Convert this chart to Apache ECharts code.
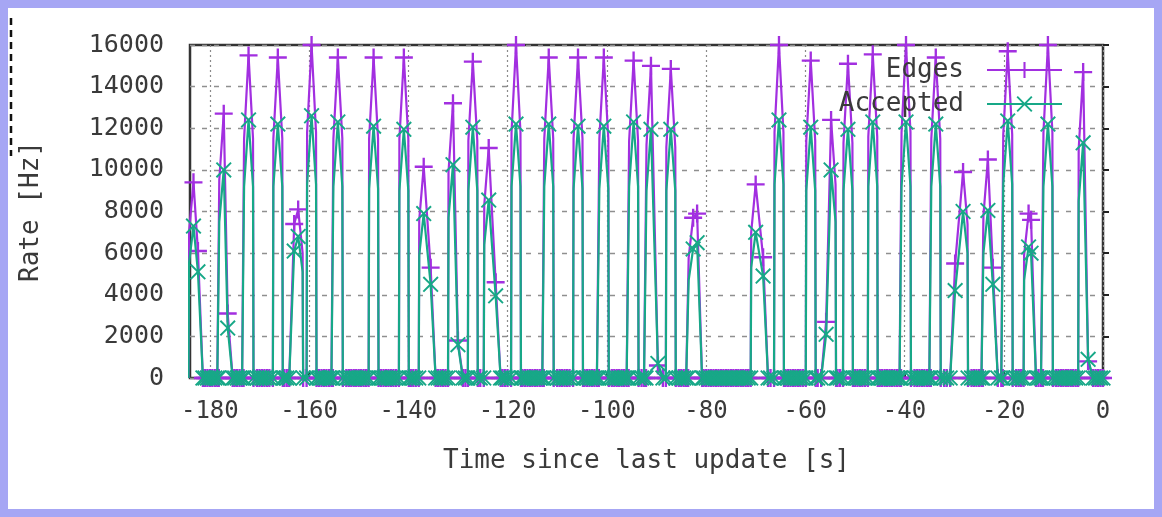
<!DOCTYPE html>
<html>
<head>
<meta charset="utf-8">
<title>Rate</title>
<script src="https://cdn.jsdelivr.net/npm/echarts@6/dist/echarts.min.js"></script>
<style>
  html, body { margin: 0; padding: 0; background: #ffffff; }
  #chart { width: 1162px; height: 517px; }
</style>
</head>
<body>
<div id="chart"></div>
<script>
// Burst peaks: time before the last update (s) and rate (Hz)
const peakTime     = [-183.3, -177.2, -172.2, -166.3, -162.2, -159.5, -154.2, -147.0, -140.9, -136.9,
                      -131.0, -127.0, -123.8, -118.3, -111.7, -105.8, -100.6, -94.6, -91.1, -87.1,
                      -82.6, -70.0, -65.3, -58.9, -54.8, -51.4, -46.4, -39.7, -33.7, -28.2,
                      -23.2, -19.2, -15.0, -11.1, -4.0];
const edgesPeak    = [9400, 12700, 15500, 15400, 8100, 16000, 15400, 15400, 15400, 10150,
                      13200, 15200, 11050, 16000, 15400, 15400, 15400, 15250, 15000, 14850,
                      7700, 9300, 16000, 15250, 12400, 15100, 15550, 16000, 15400, 9900,
                      10500, 15700, 7900, 16000, 14700];
const acceptedPeak = [7300, 10000, 12400, 12200, 6800, 12600, 12300, 12100, 11950, 7900,
                      10250, 12050, 8550, 12200, 12200, 12100, 12100, 12300, 11950, 11950,
                      6200, 7000, 12400, 12050, 10000, 11950, 12300, 12300, 12200, 8000,
                      8050, 12350, 6300, 12200, 11300];
// Level where each burst's steep rise turns into its narrow tip (Hz)
const edgesKnee    = [7000, 9500, 11500, 11500, 6000, 11800, 11500, 11500, 11500, 7600,
                      9900, 11400, 8300, 11800, 11500, 11500, 11500, 11400, 11200, 11100,
                      5800, 7000, 11800, 11400, 9300, 11300, 11600, 11800, 11500, 7400,
                      7800, 11700, 5900, 11800, 11000];
const acceptedKnee = [5500, 7500, 9200, 9200, 5100, 9300, 9200, 9100, 9000, 5900,
                      7700, 9000, 6400, 9200, 9200, 9100, 9100, 9200, 9000, 9000,
                      4700, 5300, 9300, 9000, 7500, 9000, 9200, 9200, 9200, 6000,
                      6000, 9300, 4700, 9200, 8500];
// Extra samples taken right next to a burst peak
const tailTime     = [-182.4, -176.4, -163.0, -135.5, -130.0, -122.4, -89.7, -81.8, -68.5, -55.8,
                      -29.8, -22.2, -14.5, -3.0];
const edgesTail    = [6100, 3100, 7400, 5300, 1800, 4600, 600, 7900, 5800, 2700, 5500, 5300, 7600, 800];
const acceptedTail = [5100, 2400, 6100, 4500, 1600, 3950, 700, 6500, 4900, 2100, 4200, 4500, 6000, 900];
// Idle rate between bursts (Hz) and the monitor's sample clock (s)
const idleRate = 0;
const clockStart = -184, clockEnd = 0, clockStep = 0.5;

const xTicks = [-180, -160, -140, -120, -100, -80, -60, -40, -20, 0];
const yMin = 0, yMax = 16000, yStep = 2000;

const EDGES_COLOR = '#a22fe0';
const ACCEPTED_COLOR = '#17a887';
const PLUS = 'path://M-1.3,-10H1.3V-1.3H10V1.3H1.3V10H-1.3V1.3H-10V-1.3H-1.3Z';
const CROSS = 'path://M-10,-8.3L-8.3,-10L0,-1.7L8.3,-10L10,-8.3L1.7,0L10,8.3L8.3,10L0,1.7L-8.3,10L-10,8.3L-1.7,0Z';

// Turns the sampled bursts into one rate trace: idle samples at 0,
// a steep rise to each burst's knee, the tip, and the fall back to 0.
function buildTrace(peaks, knees, tails) {
  const marked = [];
  peakTime.forEach((t, i) => marked.push({ t: t, v: peaks[i], knee: knees[i] }));
  tailTime.forEach((t, i) => marked.push({ t: t, v: tails[i], knee: null }));
  marked.sort((a, b) => a.t - b.t);

  const clusters = [];
  marked.forEach(s => {
    const c = clusters[clusters.length - 1];
    if (c && s.t - c[c.length - 1].t < 2.5) c.push(s); else clusters.push([s]);
  });

  const pts = [];
  const spans = clusters.map(c => [c[0].t - 1, c[c.length - 1].t + 1]);
  for (let t = clockStart; t <= clockEnd + 1e-9; t += clockStep) {
    const tt = Math.round(t * 10) / 10;
    if (!spans.some(([a, b]) => tt >= a - 0.2 && tt <= b + 0.2)) pts.push({ value: [tt, idleRate] });
  }
  clusters.forEach(c => {
    const first = c[0], last = c[c.length - 1];
    pts.push({ value: [first.t - 1, idleRate] });
    if (first.knee !== null) pts.push({ value: [first.t - 0.9, first.knee], symbol: 'none' });
    c.forEach(s => pts.push({ value: [s.t, s.v] }));
    if (last.knee !== null) pts.push({ value: [last.t + 0.9, last.knee], symbol: 'none' });
    pts.push({ value: [last.t + 1, idleRate] });
  });
  pts.sort((a, b) => a.value[0] - b.value[0]);
  return pts;
}

const FONT = 'DejaVu Sans Mono';
const TEXT_COLOR = '#3a3a3a';

const chart = echarts.init(document.getElementById('chart'), null, { renderer: 'canvas' });
chart.setOption({
  animation: false,
  backgroundColor: '#ffffff',
  textStyle: { fontFamily: FONT },
  grid: {
    left: 190, right: 59, top: 45, bottom: 139,
    show: true, borderColor: '#333333', borderWidth: 2.5, backgroundColor: 'transparent'
  },
  legend: [
    {
      data: ['Edges'], orient: 'vertical', right: 94, top: 52, align: 'right',
      itemWidth: 75, itemHeight: 20,
      textStyle: { fontFamily: FONT, fontSize: 26, color: TEXT_COLOR, padding: [0, 18, 0, 0] }
    },
    {
      data: ['Accepted'], orient: 'vertical', right: 94, top: 86, align: 'right',
      itemWidth: 75, itemHeight: 20,
      textStyle: { fontFamily: FONT, fontSize: 26, color: TEXT_COLOR, padding: [0, 18, 0, 0] }
    }
  ],
  xAxis: {
    type: 'value', min: clockStart, max: clockEnd,
    name: 'Time since last update [s]', nameLocation: 'middle', nameGap: 70,
    nameTextStyle: { fontFamily: FONT, fontSize: 26, color: TEXT_COLOR },
    axisLine: { show: false },
    axisTick: { show: true, inside: true, length: 6, customValues: xTicks, lineStyle: { color: '#222', width: 2 } },
    axisLabel: { customValues: xTicks, margin: 22, fontFamily: FONT, fontSize: 24, color: TEXT_COLOR },
    splitLine: { show: true, lineStyle: { color: '#8a8a8a', width: 1.2, type: [2, 3] } }
  },
  yAxis: {
    type: 'value', min: yMin, max: yMax, interval: yStep,
    name: 'Rate [Hz]', nameLocation: 'middle', nameGap: 146,
    nameTextStyle: { fontFamily: FONT, fontSize: 26, color: TEXT_COLOR },
    axisLine: { show: false },
    axisTick: { show: true, inside: true, length: 6, lineStyle: { color: '#222', width: 2 } },
    axisLabel: {
      margin: 26, fontFamily: FONT, fontSize: 25, color: TEXT_COLOR,
      formatter: v => String(v)
    },
    splitLine: { show: true, lineStyle: { color: '#8f8f8f', width: 1.3, type: [5, 7] } }
  },
  series: [
    {
      name: 'Edges', type: 'line', z: 2,
      data: buildTrace(edgesPeak, edgesKnee, edgesTail),
      symbol: PLUS, symbolSize: 18, showSymbol: true, showAllSymbol: true,
      lineStyle: { color: EDGES_COLOR, width: 2.2 },
      itemStyle: { color: EDGES_COLOR },
      emphasis: { disabled: true }
    },
    {
      name: 'Accepted', type: 'line', z: 3,
      data: buildTrace(acceptedPeak, acceptedKnee, acceptedTail),
      symbol: CROSS, symbolSize: 16, showSymbol: true, showAllSymbol: true,
      lineStyle: { color: ACCEPTED_COLOR, width: 2.2 },
      itemStyle: { color: ACCEPTED_COLOR },
      emphasis: { disabled: true }
    }
  ],
  graphic: [
    {
      type: 'rect', silent: true, z: 100,
      shape: { x: 4, y: 4, width: 1154, height: 509 },
      style: { fill: 'none', stroke: '#a6a6f4', lineWidth: 8 }
    },
    {
      type: 'line', silent: true, z: 100,
      shape: { x1: 11, y1: 18, x2: 11, y2: 156 },
      style: { stroke: '#111111', lineWidth: 2.5, lineDash: [7, 5] }
    }
  ]
});
</script>
</body>
</html>
